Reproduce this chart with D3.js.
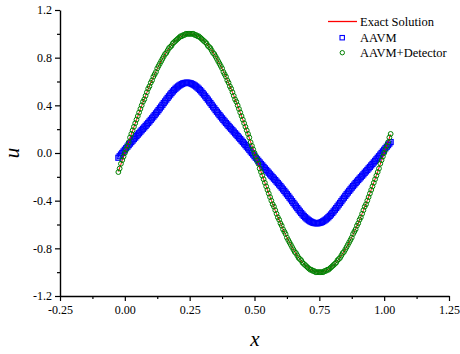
<!DOCTYPE html>
<html><head><meta charset="utf-8">
<script src="https://cdn.jsdelivr.net/npm/d3@7/dist/d3.min.js"></script>
<style>
body{margin:0;background:#fff;}
svg{display:block;font-family:"Liberation Serif","Times New Roman",serif;}
</style></head>
<body><svg id="c" width="460" height="354"></svg>
<script>
const xValues = [-0.025,-0.02,-0.015,-0.01,-0.005,
0,0.005,0.01,0.015,0.02,0.025,0.03,0.035,0.04,0.045,
0.05,0.055,0.06,0.065,0.07,0.075,0.08,0.085,0.09,0.095,
0.1,0.105,0.11,0.115,0.12,0.125,0.13,0.135,0.14,0.145,
0.15,0.155,0.16,0.165,0.17,0.175,0.18,0.185,0.19,0.195,
0.2,0.205,0.21,0.215,0.22,0.225,0.23,0.235,0.24,0.245,
0.25,0.255,0.26,0.265,0.27,0.275,0.28,0.285,0.29,0.295,
0.3,0.305,0.31,0.315,0.32,0.325,0.33,0.335,0.34,0.345,
0.35,0.355,0.36,0.365,0.37,0.375,0.38,0.385,0.39,0.395,
0.4,0.405,0.41,0.415,0.42,0.425,0.43,0.435,0.44,0.445,
0.45,0.455,0.46,0.465,0.47,0.475,0.48,0.485,0.49,0.495,
0.5,0.505,0.51,0.515,0.52,0.525,0.53,0.535,0.54,0.545,
0.55,0.555,0.56,0.565,0.57,0.575,0.58,0.585,0.59,0.595,
0.6,0.605,0.61,0.615,0.62,0.625,0.63,0.635,0.64,0.645,
0.65,0.655,0.66,0.665,0.67,0.675,0.68,0.685,0.69,0.695,
0.7,0.705,0.71,0.715,0.72,0.725,0.73,0.735,0.74,0.745,
0.75,0.755,0.76,0.765,0.77,0.775,0.78,0.785,0.79,0.795,
0.8,0.805,0.81,0.815,0.82,0.825,0.83,0.835,0.84,0.845,
0.85,0.855,0.86,0.865,0.87,0.875,0.88,0.885,0.89,0.895,
0.9,0.905,0.91,0.915,0.92,0.925,0.93,0.935,0.94,0.945,
0.95,0.955,0.96,0.965,0.97,0.975,0.98,0.985,0.99,0.995,
1,1.005,1.01,1.015,1.02,1.025];

const exactU = [-.156,-.125,-.094,-.063,-.031,
0,.031,.063,.094,.125,.156,.187,.218,.249,.279,.309,.339,.368,.397,.426,.454,.482,.509,.536,.562,.588,.613,.637,.661,.685,.707,.729,.750,.771,.790,.809,.827,.844,.861,.876,.891,.905,.918,.930,.941,.951,.960,.969,.976,.982,.988,.992,.996,.998,.999,1,
.999,.998,.996,.992,.988,.982,.976,.969,.960,.951,.941,.930,.918,.905,.891,.876,.861,.844,.827,.809,.790,.771,.750,.729,.707,.685,.661,.637,.613,.588,.562,.536,.509,.482,.454,.426,.397,.368,.339,.309,.279,.249,.218,.187,.156,.125,.094,.063,.031,0,
-.031,-.063,-.094,-.125,-.156,-.187,-.218,-.249,-.279,-.309,-.339,-.368,-.397,-.426,-.454,-.482,-.509,-.536,-.562,-.588,-.613,-.637,-.661,-.685,-.707,-.729,-.750,-.771,-.790,-.809,-.827,-.844,-.861,-.876,-.891,-.905,-.918,-.930,-.941,-.951,-.960,-.969,-.976,-.982,-.988,-.992,-.996,-.998,-.999,-1,
-.999,-.998,-.996,-.992,-.988,-.982,-.976,-.969,-.960,-.951,-.941,-.930,-.918,-.905,-.891,-.876,-.861,-.844,-.827,-.809,-.790,-.771,-.750,-.729,-.707,-.685,-.661,-.637,-.613,-.588,-.562,-.536,-.509,-.482,-.454,-.426,-.397,-.368,-.339,-.309,-.279,-.249,-.218,-.187,-.156,-.125,-.094,-.063,-.031,0,
.031,.063,.094,.125,.156];

const aavmU = [-.040,-.027,-.013,
0,.013,.027,.040,.053,.066,.079,.092,.104,.117,.129,.142,.154,.166,.179,.191,.203,.215,.227,.240,.252,.265,.278,.291,.305,.318,.332,.346,.360,.375,.389,.404,.419,.433,.448,.462,.476,.490,.503,.516,.528,.539,.549,.558,.566,.573,.579,.584,.587,.589,.590,
.589,.587,.584,.579,.573,.566,.558,.549,.539,.528,.516,.503,.490,.476,.462,.448,.433,.419,.404,.389,.375,.360,.346,.332,.318,.305,.291,.278,.265,.252,.240,.227,.215,.203,.191,.179,.166,.154,.142,.129,.117,.104,.092,.079,.066,.053,.040,.027,.013,0,
-.013,-.027,-.040,-.053,-.066,-.079,-.092,-.104,-.117,-.129,-.142,-.154,-.166,-.179,-.191,-.203,-.215,-.227,-.240,-.252,-.265,-.278,-.291,-.305,-.318,-.332,-.346,-.360,-.375,-.389,-.404,-.419,-.433,-.448,-.462,-.476,-.490,-.503,-.516,-.528,-.539,-.549,-.558,-.566,-.573,-.579,-.584,-.587,-.589,-.590,
-.589,-.587,-.584,-.579,-.573,-.566,-.558,-.549,-.539,-.528,-.516,-.503,-.490,-.476,-.462,-.448,-.433,-.419,-.404,-.389,-.375,-.360,-.346,-.332,-.318,-.305,-.291,-.278,-.265,-.252,-.240,-.227,-.215,-.203,-.191,-.179,-.166,-.154,-.142,-.129,-.117,-.104,-.092,-.079,-.066,-.053,-.040,-.027,-.013,0,
.013,.027,.040,.053,.066,.079,.092];

const detectorU = [-.16,-.13,-.09,-.06,-.03,
0,.03,.06,.09,.13,.16,.19,.22,.25,.28,.31,.34,.37,.40,.43,.45,.48,.51,.54,.56,.59,.61,.64,.66,.68,.71,.73,.75,.77,.79,.81,.83,.84,.86,.88,.89,.90,.92,.93,.94,.95,.96,.97,.98,.98,.99,.99,1,1,1,1,
1,1,1,.99,.99,.98,.98,.97,.96,.95,.94,.93,.92,.90,.89,.88,.86,.84,.83,.81,.79,.77,.75,.73,.71,.68,.66,.64,.61,.59,.56,.54,.51,.48,.45,.43,.40,.37,.34,.31,.28,.25,.22,.19,.16,.13,.09,.06,.03,0,
-.03,-.06,-.09,-.13,-.16,-.19,-.22,-.25,-.28,-.31,-.34,-.37,-.40,-.43,-.45,-.48,-.51,-.54,-.56,-.59,-.61,-.64,-.66,-.68,-.71,-.73,-.75,-.77,-.79,-.81,-.83,-.84,-.86,-.88,-.89,-.90,-.92,-.93,-.94,-.95,-.96,-.97,-.98,-.98,-.99,-.99,-1,-1,-1,-1,
-1,-1,-1,-.99,-.99,-.98,-.98,-.97,-.96,-.95,-.94,-.93,-.92,-.90,-.89,-.88,-.86,-.84,-.83,-.81,-.79,-.77,-.75,-.73,-.71,-.68,-.66,-.64,-.61,-.59,-.56,-.54,-.51,-.48,-.45,-.43,-.40,-.37,-.34,-.31,-.28,-.25,-.22,-.19,-.16,-.13,-.09,-.06,-.03,0,
.03,.06,.09,.13,.16];

const seriesNames = ["Exact Solution","AAVM","AAVM+Detector"];
const xTickValues = [-0.25,0,0.25,0.5,0.75,1,1.25];
const xTickLabels = ["-0.25","0.00","0.25","0.50","0.75","1.00","1.25"];
const xMinorTicks = [-0.125,0.125,0.375,0.625,0.875,1.125];
const yTickValues = [-1.2,-0.8,-0.4,0,0.4,0.8,1.2];
const yTickLabels = ["-1.2","-0.8","-0.4","0.0","0.4","0.8","1.2"];
const yMinorTicks = [-1.0,-0.6,-0.2,0.2,0.6,1.0];

const svg = d3.select("#c");
const L = 60, R = 449, T = 10, B = 296;
const x = d3.scaleLinear().domain([-0.25,1.25]).range([L,R]);
const y = d3.scaleLinear().domain([-1.2,1.2]).range([B,T]);

function pts(ys){ const n=Math.min(xValues.length, ys.length); const a=[]; for(let i=0;i<n;i++) a.push([xValues[i], ys[i]]); return a; }

// AAVM squares
const sq = 5;
svg.append("g").selectAll("rect").data(pts(aavmU)).join("rect")
  .attr("x", d=>x(d[0])-sq/2).attr("y", d=>y(d[1])-sq/2)
  .attr("width", sq).attr("height", sq)
  .attr("fill","none").attr("stroke","#0000ff").attr("stroke-width",1.2);

// Exact line
svg.append("path").datum(pts(exactU))
  .attr("d", d3.line().x(d=>x(d[0])).y(d=>y(d[1])))
  .attr("fill","none").attr("stroke","#ff0000").attr("stroke-width",1);

// Detector circles
svg.append("g").selectAll("circle").data(pts(detectorU)).join("circle")
  .attr("cx", d=>x(d[0])).attr("cy", d=>y(d[1])).attr("r",2.4)
  .attr("fill","none").attr("stroke","#008000").attr("stroke-width",1);

// Axes
svg.append("g").attr("transform",`translate(0,${B})`)
  .call(d3.axisBottom(x).tickValues(xTickValues).tickFormat((d,i)=>xTickLabels[i]).tickSize(5).tickSizeOuter(0).tickPadding(4));
svg.append("g").attr("transform",`translate(0,${B})`)
  .call(d3.axisBottom(x).tickValues(xMinorTicks).tickFormat("").tickSize(3).tickSizeOuter(0))
  .select(".domain").remove();
svg.append("g").attr("transform",`translate(${L},0)`)
  .call(d3.axisLeft(y).tickValues(yTickValues).tickFormat((d,i)=>yTickLabels[i]).tickSize(5).tickSizeOuter(0).tickPadding(3));
svg.append("g").attr("transform",`translate(${L},0)`)
  .call(d3.axisLeft(y).tickValues(yMinorTicks).tickFormat("").tickSize(3).tickSizeOuter(0))
  .select(".domain").remove();
svg.selectAll(".domain").attr("stroke","#000").attr("stroke-width",1.4);
svg.selectAll(".tick line").attr("stroke","#000").attr("stroke-width",1.2);
svg.selectAll(".tick text").attr("fill","#000").style("font-family","'Liberation Serif',serif").style("font-size","12px");

// Axis titles
svg.append("text").attr("x",255).attr("y",346).attr("text-anchor","middle")
  .style("font-style","italic").style("font-size","21px").text("x");
svg.append("text").attr("transform","translate(19,153) rotate(-90)").attr("text-anchor","middle")
  .style("font-style","italic").style("font-size","21px").text("u");

// Legend
const lg = svg.append("g").style("font-size","12.5px");
lg.append("line").attr("x1",328).attr("x2",357).attr("y1",21.5).attr("y2",21.5).attr("stroke","#ff0000").attr("stroke-width",1.3);
lg.append("rect").attr("x",340).attr("y",35.5).attr("width",4.4).attr("height",4.4).attr("fill","none").attr("stroke","#0000ff").attr("stroke-width",1.1);
lg.append("circle").attr("cx",342.3).attr("cy",52.7).attr("r",2.2).attr("fill","none").attr("stroke","#008000").attr("stroke-width",1);
const ly = [21.5,37.7,52.7];
seriesNames.forEach((s,i)=>{
  lg.append("text").attr("x",360).attr("y",ly[i]).attr("dy","0.35em").text(s);
});
</script></body></html>
